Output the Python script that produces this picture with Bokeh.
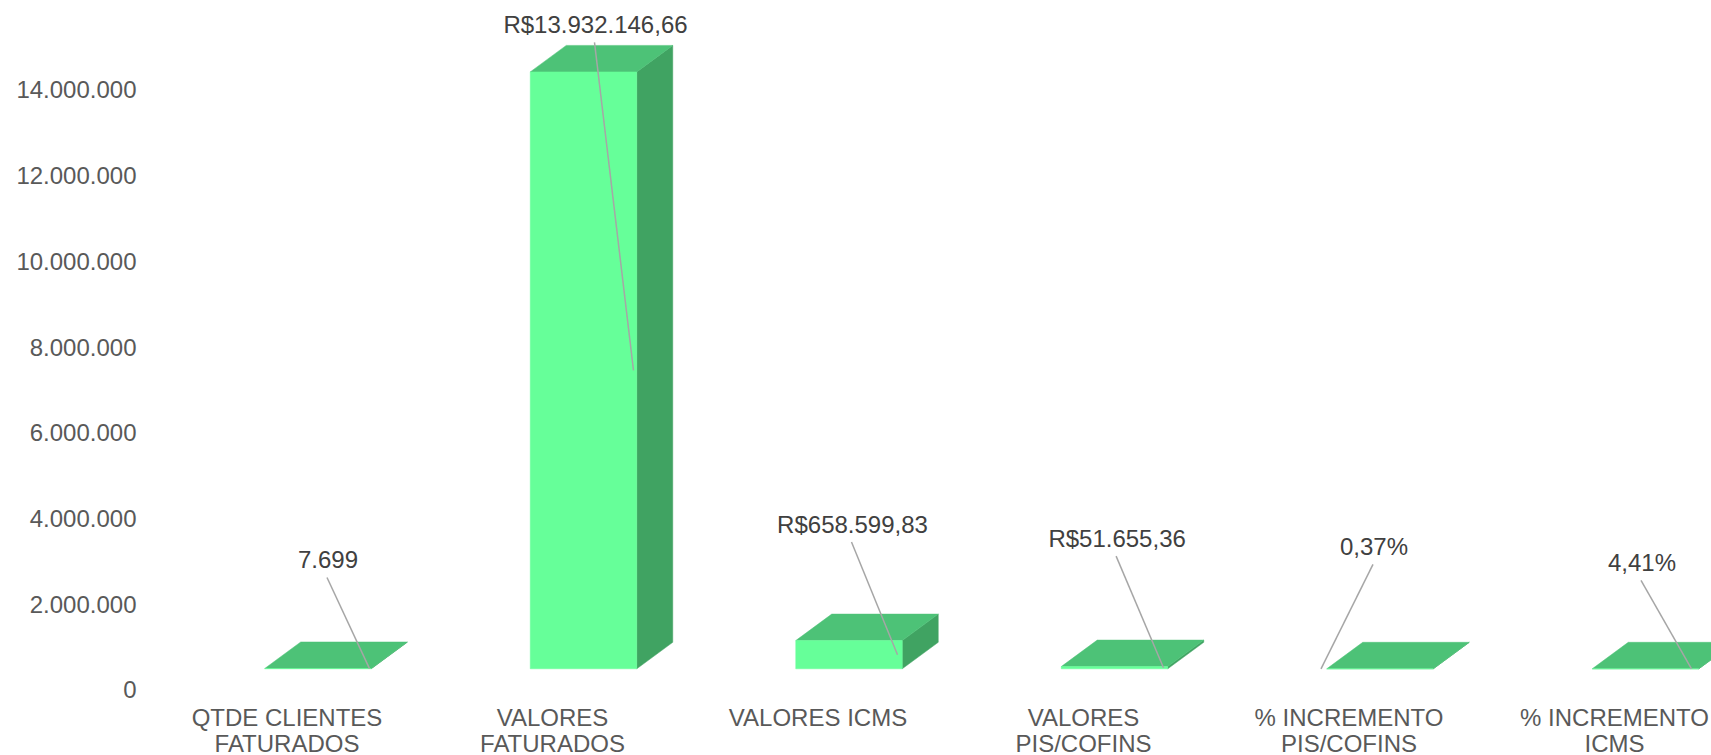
from bokeh.plotting import figure
from bokeh.models import Range1d, FixedTicker
from bokeh.embed import file_html
from bokeh.resources import INLINE
from bokeh.core.properties import value

# ---- data ----
categories = [["QTDE CLIENTES", "FATURADOS"], ["VALORES", "FATURADOS"], ["VALORES ICMS", ""],
              ["VALORES", "PIS/COFINS"], ["% INCREMENTO", "PIS/COFINS"], ["% INCREMENTO", "ICMS"]]
values = [7699, 13932146.66, 658599.83, 51655.36, 0.0037, 0.0441]
value_labels = ["7.699", "R$13.932.146,66", "R$658.599,83", "R$51.655,36", "0,37%", "4,41%"]
y_ticks = [0, 2000000, 4000000, 6000000, 8000000, 10000000, 12000000, 14000000]

# ---- style / geometry ----
W, H = 1711, 755
FL = 150                         # frame left border
ZERO_PX = 689.3                  # screen y of value 0
PX_X = 265.5                     # px per category unit
UNITS_PER_PX = 23341.0           # value units per px
X0 = -(317.5 - FL) / PX_X
X1 = X0 + (W - FL) / PX_X
Y0 = -(H - ZERO_PX) * UNITS_PER_PX
Y1 = ZERO_PX * UNITS_PER_PX
BAR_W = 106.5 / PX_X
DX = 36 / PX_X
DY = 26.5 * UNITS_PER_PX
FLOOR = 21 * UNITS_PER_PX
FRONT, TOP, SIDE = "#66FF99", "#4DC277", "#40A362"
FONT = "Liberation Sans"
FS = "24px"
# data-label offsets (px) relative to bar centre / front top
lab_dx = [10, 12, 3.5, 2.6, -6, -3.5]
lab_dy = [108.5, 47, 116, 128, 122, 106]
lead_end_dx = [51.5, 50, 48.5, 49, -59, 46]
cat_dx = -31                     # category label shift (px)
cat_line1, cat_line2 = 717, 742.5  # screen y of category label lines

p = figure(width=W, height=H, output_backend="svg", toolbar_location=None,
           x_range=Range1d(X0, X1), y_range=Range1d(Y0, Y1))
p.min_border_left = FL
p.min_border_right = 0
p.min_border_top = 0
p.min_border_bottom = 0
p.outline_line_color = None
p.grid.visible = False
p.xaxis.visible = False
p.background_fill_color = "white"
p.border_fill_color = "white"

xs = list(range(len(values)))
front_l = [i - BAR_W / 2 for i in xs]
front_r = [i + BAR_W / 2 for i in xs]
tops = [FLOOR + v for v in values]

side_xs = [[r, r, r + DX, r + DX] for r in front_r]
side_ys = [[FLOOR, t, t + DY, FLOOR + DY] for t in tops]
top_xs = [[l, r, r + DX, l + DX] for l, r in zip(front_l, front_r)]
top_ys = [[t, t, t + DY, t + DY] for t in tops]

p.patches(side_xs, side_ys, fill_color=SIDE, line_color=SIDE, line_width=0.5)
p.patches(top_xs, top_ys, fill_color=TOP, line_color=TOP, line_width=0.5)
p.quad(left=front_l, right=front_r, bottom=FLOOR, top=tops,
       fill_color=FRONT, line_color=FRONT, line_width=0.5)

# data labels with leader lines
lx = [i + d / PX_X for i, d in zip(xs, lab_dx)]
ly = [t + d * UNITS_PER_PX for t, d in zip(tops, lab_dy)]
sx0 = [x - 1 / PX_X for x in lx]
sy0 = [y - 17.5 * UNITS_PER_PX for y in ly]
sx1 = [i + d / PX_X for i, d in zip(xs, lead_end_dx)]
sy1 = [FLOOR + v / 2 for v in values]
p.segment(sx0, sy0, sx1, sy1, line_color="#A6A6A6", line_width=1.5)
p.text(lx, ly, text=value_labels, text_align="center", text_baseline="middle",
       text_font=value(FONT), text_font_size=FS, text_color="#404040")

# category labels (drawn below the floor)
cx = [i + cat_dx / PX_X for i in xs]
y_l1 = (ZERO_PX - cat_line1) * UNITS_PER_PX
y_l2 = (ZERO_PX - cat_line2) * UNITS_PER_PX
p.text(cx, [y_l1] * len(xs), text=[c[0] for c in categories], text_align="center",
       text_baseline="middle", text_font=value(FONT), text_font_size=FS, text_color="#595959")
p.text(cx, [y_l2] * len(xs), text=[c[1] for c in categories], text_align="center",
       text_baseline="middle", text_font=value(FONT), text_font_size=FS, text_color="#595959")

# y axis
p.yaxis.ticker = FixedTicker(ticks=y_ticks)
p.yaxis.major_label_overrides = {t: f"{t:,}".replace(",", ".") for t in y_ticks}
p.yaxis.axis_line_color = None
p.yaxis.major_tick_line_color = None
p.yaxis.minor_tick_line_color = None
p.yaxis.major_tick_out = 0
p.yaxis.major_tick_in = 0
p.yaxis.major_label_standoff = 14
p.yaxis.major_label_text_font = FONT
p.yaxis.major_label_text_font_size = FS
p.yaxis.major_label_text_color = "#595959"

open("out.html", "w").write(file_html(p, INLINE))
